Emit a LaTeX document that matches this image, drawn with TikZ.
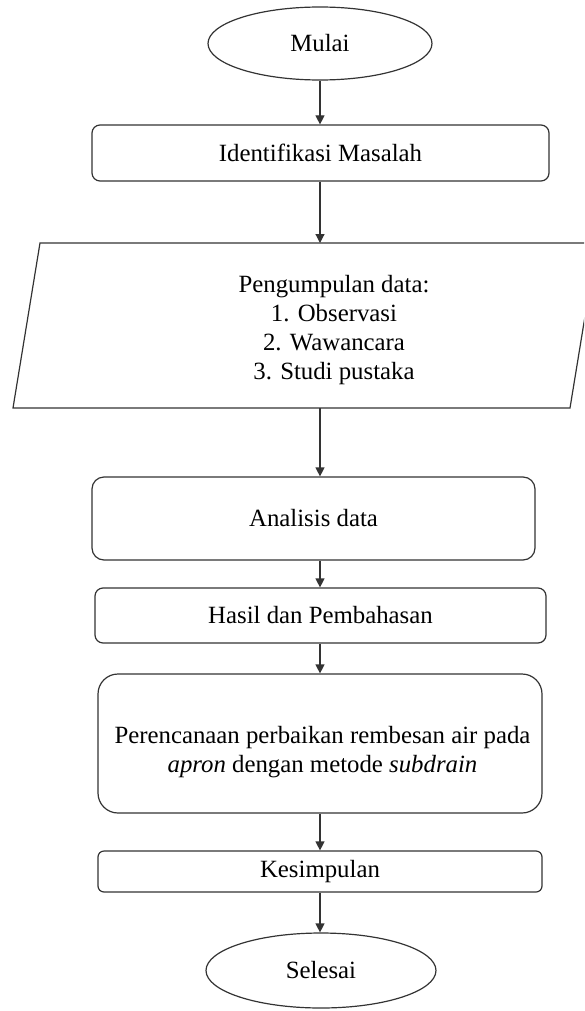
\documentclass[tikz,border=0pt]{standalone}
\usepackage{fontspec}
\setmainfont{Liberation Serif}
\usetikzlibrary{arrows.meta,shapes.geometric}
\begin{document}
\begin{tikzpicture}[x=0.5pt,y=-0.5pt,
  every node/.style={font=\fontsize{12.4}{14.5}\selectfont, text=black},
  box/.style={draw=black!80, line width=0.6pt, inner sep=0pt, align=center},
  term/.style={draw=black!80, line width=0.6pt, ellipse, inner sep=0pt},
  link/.style={draw=black!80, line width=0.6pt, -{Triangle[width=4.5pt,length=4.5pt]}}
]
\useasboundingbox (0,0) rectangle (584,1011);
\clip (0,0) rectangle (584,1011);

\node[term, minimum width=112pt, minimum height=36.5pt] (start) at (320,43.5) {Mulai};
\node[box, rounded corners=4pt, minimum width=228.5pt, minimum height=28pt] (ident) at (320.5,153) {Identifikasi Masalah};

% parallelogram (data input)
\coordinate (ptl) at (40,243);
\coordinate (ptr) at (597,243);
\coordinate (pbr) at (570,408);
\coordinate (pbl) at (13,408);
\coordinate (ptop) at (320,243);
\coordinate (pbot) at (320,408);
\draw[draw=black!80, line width=0.6pt] (ptl) -- (ptr) -- (pbr) -- (pbl) -- cycle;
\node[align=center] (data) at (334,330) {Pengumpulan data:\\1. Observasi\\2. Wawancara\\3. Studi pustaka};

\node[box, rounded corners=6pt, minimum width=221.5pt, minimum height=41.5pt] (anal) at (313.5,518.5) {Analisis data};
\node[box, rounded corners=4pt, minimum width=225.5pt, minimum height=27.5pt] (hasil) at (320.5,615.5) {Hasil dan Pembahasan};
\node[box, rounded corners=10pt, minimum width=222pt, minimum height=69.5pt] (plan) at (320,743.5) {};
\node[align=center] (plantxt) at (322.5,752) {Perencanaan perbaikan rembesan air pada\\\textit{apron} dengan metode \textit{subdrain}};
\node[box, rounded corners=3pt, minimum width=222pt, minimum height=20.5pt] (kes) at (320,871.5) {Kesimpulan};
\node[term, minimum width=115pt, minimum height=37.5pt] (end) at (321,970.5) {Selesai};

\draw[link] (start.south) -- (start.south |- ident.north);
\draw[link] (ident.south -| ptop) -- (ptop);
\draw[link] (pbot) -- (pbot |- anal.north);
\draw[link] (pbot |- anal.south) -- (pbot |- hasil.north);
\draw[link] (pbot |- hasil.south) -- (pbot |- plan.north);
\draw[link] (pbot |- plan.south) -- (pbot |- kes.north);
\draw[link] (pbot |- kes.south) -- (pbot |- end.north);
\end{tikzpicture}
\end{document}
